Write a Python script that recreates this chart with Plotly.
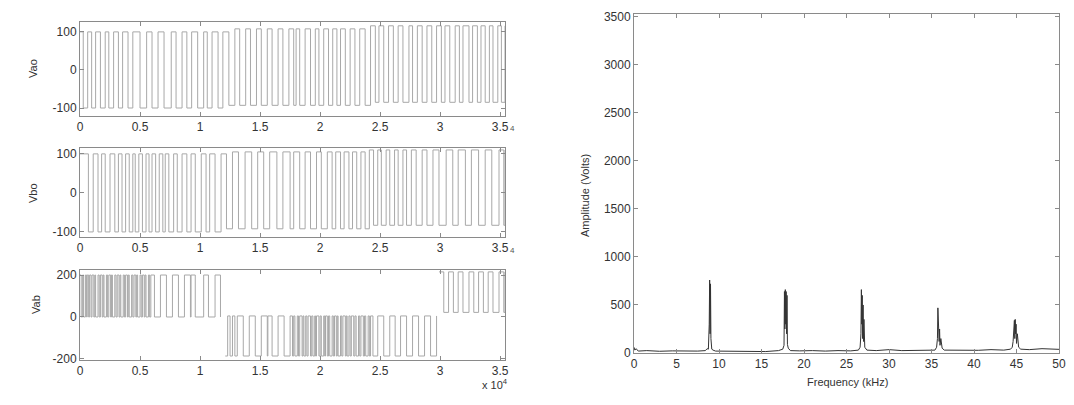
import plotly.graph_objects as go

# ---------------- data (time axis in units of x10^4 samples) ----------------
vao_edges = [0.0, 0.027, 0.064, 0.097, 0.13, 0.17, 0.21, 0.24, 0.28, 0.32, 0.355, 0.40, 0.44,
             0.50, 0.555, 0.60, 0.65, 0.70, 0.76, 0.80, 0.85, 0.89, 0.93, 0.98, 1.03, 1.06,
             1.10, 1.15, 1.19, 1.24, 1.29, 1.33, 1.38, 1.42, 1.47, 1.51, 1.56, 1.60, 1.65,
             1.69, 1.74, 1.78, 1.80, 1.83, 1.875, 1.92, 1.96, 1.99, 2.03, 2.07, 2.105, 2.14,
             2.17, 2.21, 2.25, 2.29, 2.33, 2.375, 2.42, 2.46, 2.49, 2.53, 2.57, 2.61, 2.65,
             2.69, 2.74, 2.77, 2.81, 2.85, 2.89, 2.93, 2.97, 3.01, 3.04, 3.08, 3.125, 3.16,
             3.19, 3.24, 3.27, 3.31, 3.34, 3.375, 3.41, 3.44, 3.48, 3.51, 3.54]
vao_breaks = [1.2, 2.4]
vao_high = [100, 108, 116]
vao_low = [-100, -93, -85]

vbo_edges = [0.0, 0.07, 0.11, 0.15, 0.18, 0.21, 0.25, 0.29, 0.32, 0.35, 0.38, 0.41, 0.44, 0.46,
             0.49, 0.52, 0.55, 0.575, 0.60, 0.63, 0.66, 0.69, 0.71, 0.74, 0.78, 0.81, 0.85,
             0.89, 0.925, 0.96, 1.01, 1.05, 1.08, 1.125, 1.175, 1.22, 1.27, 1.32, 1.375, 1.43,
             1.48, 1.53, 1.58, 1.64, 1.69, 1.75, 1.78, 1.83, 1.875, 1.92, 1.97, 2.01, 2.06,
             2.10, 2.13, 2.17, 2.20, 2.24, 2.27, 2.305, 2.34, 2.375, 2.41, 2.445, 2.48, 2.51,
             2.55, 2.58, 2.62, 2.65, 2.69, 2.72, 2.76, 2.80, 2.85, 2.89, 2.94, 2.99, 3.05,
             3.105, 3.15, 3.21, 3.26, 3.32, 3.375, 3.43, 3.49, 3.53, 3.54]
vbo_breaks = [1.2, 2.4]
vbo_high = [100, 105, 110]
vbo_low = [-100, -92, -83]

vab_pos1_edges = [0.0, 0.01, 0.022, 0.03, 0.045, 0.055, 0.06, 0.072, 0.08, 0.092, 0.10, 0.115,
                  0.123, 0.13, 0.15, 0.16, 0.17, 0.185, 0.193, 0.20, 0.22, 0.23, 0.24, 0.255,
                  0.262, 0.27, 0.29, 0.30, 0.31, 0.325, 0.333, 0.34, 0.36, 0.37, 0.38, 0.395,
                  0.402, 0.41, 0.43, 0.44, 0.45, 0.465, 0.472, 0.48, 0.50, 0.51, 0.52, 0.535,
                  0.542, 0.55, 0.57, 0.58, 0.59, 0.62, 0.67, 0.72, 0.77, 0.82, 0.87, 0.92,
                  0.925, 0.96, 1.03, 1.07, 1.125, 1.17]
vab_neg_edges = [1.21, 1.23, 1.25, 1.27, 1.29, 1.31, 1.36, 1.41, 1.46, 1.51, 1.56, 1.565, 1.60,
                 1.65, 1.70, 1.75, 1.77, 1.78, 1.79, 1.81, 1.82, 1.83, 1.85, 1.858, 1.865, 1.88,
                 1.89, 1.90, 1.92, 1.93, 1.94, 1.955, 1.962, 1.97, 1.99, 2.0, 2.01, 2.03, 2.038,
                 2.045, 2.06, 2.07, 2.08, 2.10, 2.11, 2.12, 2.135, 2.143, 2.15, 2.17, 2.18, 2.19,
                 2.21, 2.218, 2.225, 2.24, 2.25, 2.26, 2.28, 2.29, 2.30, 2.32, 2.33, 2.34, 2.36,
                 2.37, 2.38, 2.40, 2.41, 2.42, 2.44, 2.48, 2.53, 2.58, 2.625, 2.67, 2.72, 2.77,
                 2.82, 2.87, 2.92, 2.97]
vab_pos2_edges = [2.99, 3.03, 3.07, 3.11, 3.15, 3.19, 3.24, 3.28, 3.32, 3.36, 3.40, 3.44, 3.49,
                  3.53, 3.54]
vab_pos1_levels = [200, 0]
vab_neg_levels = [-186, 5]
vab_pos2_levels = [215, 22]

freq_khz = [0.0, 0.1, 0.25, 0.5, 1.5, 3.0, 4.5, 6.0, 7.5, 8.4, 8.6, 8.75, 8.85, 8.9, 8.95, 9.0,
            9.05, 9.15, 9.3, 9.6, 11, 12.5, 14, 15.5, 17.0, 17.5, 17.65, 17.7, 17.75, 17.8,
            17.85, 17.9, 17.95, 18.0, 18.05, 18.15, 18.4, 19.5, 21, 22.5, 24, 25.5, 26.4, 26.6,
            26.7, 26.75, 26.8, 26.85, 26.9, 26.95, 27.0, 27.05, 27.15, 27.4, 28.5, 30, 31.5, 33,
            34.5, 35.4, 35.6, 35.7, 35.75, 35.8, 35.85, 35.9, 35.95, 36.0, 36.1, 36.25, 36.5,
            37.5, 39, 40.5, 42, 43.5, 44.3, 44.5, 44.6, 44.7, 44.75, 44.8, 44.85, 44.9, 44.95,
            45.0, 45.1, 45.25, 45.5, 46.5, 48, 49, 50]
amp_volts = [60, 30, 45, 20, 25, 18, 22, 18, 20, 25, 45, 40, 300, 760, 200, 720,
             150, 40, 30, 20, 20, 18, 20, 15, 25, 40, 80, 640, 250, 660,
             300, 640, 200, 600, 90, 50, 25, 22, 25, 20, 25, 22, 30, 60,
             200, 660, 300, 600, 150, 500, 120, 350, 60, 30, 25, 35, 25, 28,
             25, 30, 60, 150, 470, 200, 300, 120, 250, 80, 150, 50, 30,
             28, 30, 28, 35, 30, 40, 60, 120, 250, 340, 150, 350, 200, 300,
             100, 200, 60, 40, 35, 45, 40, 38]
assert len(freq_khz) == len(amp_volts)

time_ticks = [0, 0.5, 1, 1.5, 2, 2.5, 3, 3.5]
freq_ticks = [0, 5, 10, 15, 20, 25, 30, 35, 40, 45, 50]
amp_ticks = [0, 500, 1000, 1500, 2000, 2500, 3000, 3500]
v100_ticks = [-100, 0, 100]
v100_labels = ["-100", "0", "100"]
v200_ticks = [-200, 0, 200]
v200_labels = ["-200", "0", "200"]

# ---------------- helpers ----------------
# the page body keeps an 8px margin, so the figure is sized to fit inside the window
OFF = 8
W, H = 1074 - OFF, 405 - OFF


def fx(p):
    return (p - OFF) / W


def fy(p):
    return 1 - (p - OFF) / H


def chunked_levels(edges, breaks, highs, lows):
    ys = []
    for i, e in enumerate(edges):
        k = sum(1 for b in breaks if e >= b)
        ys.append(highs[k] if i % 2 == 0 else lows[k])
    return ys


def alt_levels(edges, levels):
    return [levels[i % 2] for i in range(len(edges))]


GRAY = "#a8a8a8"
fig = go.Figure()

fig.add_trace(go.Scatter(x=vao_edges, y=chunked_levels(vao_edges, vao_breaks, vao_high, vao_low),
                         mode="lines", line=dict(color=GRAY, width=1, shape="hv"),
                         xaxis="x", yaxis="y", showlegend=False))
fig.add_trace(go.Scatter(x=vbo_edges, y=chunked_levels(vbo_edges, vbo_breaks, vbo_high, vbo_low),
                         mode="lines", line=dict(color=GRAY, width=1, shape="hv"),
                         xaxis="x2", yaxis="y2", showlegend=False))
for edges, lev in [(vab_pos1_edges, vab_pos1_levels), (vab_neg_edges, vab_neg_levels),
                   (vab_pos2_edges, vab_pos2_levels)]:
    fig.add_trace(go.Scatter(x=edges, y=alt_levels(edges, lev), mode="lines",
                             line=dict(color=GRAY, width=1, shape="hv"),
                             xaxis="x3", yaxis="y3", showlegend=False))
fig.add_trace(go.Scatter(x=freq_khz, y=amp_volts, mode="lines",
                         line=dict(color="#333333", width=1),
                         xaxis="x4", yaxis="y4", showlegend=False))

FONT = dict(family="Liberation Sans, Arial, sans-serif", size=12, color="#333333")
axcommon = dict(showline=True, linecolor="#8a8a8a", linewidth=1, mirror="ticks",
                ticks="inside", ticklen=4, tickcolor="#8a8a8a", showgrid=False,
                zeroline=False, tickfont=FONT, automargin=False)

lx = [fx(80), fx(505)]
fig.update_layout(
    width=W, height=H, margin=dict(l=0, r=0, t=0, b=0, autoexpand=False),
    paper_bgcolor="white", plot_bgcolor="white", font=FONT, showlegend=False,
    xaxis=dict(domain=lx, range=[0, 3.54], tickvals=time_ticks, anchor="y", **axcommon),
    yaxis=dict(domain=[fy(116), fy(22)], range=[-121, 126], tickvals=v100_ticks,
               ticktext=v100_labels, anchor="x", **axcommon),
    xaxis2=dict(domain=lx, range=[0, 3.54], tickvals=time_ticks, anchor="y2", **axcommon),
    yaxis2=dict(domain=[fy(237), fy(148)], range=[-113, 115], tickvals=v100_ticks,
                ticktext=v100_labels, anchor="x2", **axcommon),
    xaxis3=dict(domain=lx, range=[0, 3.54], tickvals=time_ticks, anchor="y3", **axcommon),
    yaxis3=dict(domain=[fy(360), fy(270)], range=[-205, 224], tickvals=v200_ticks,
                ticktext=v200_labels, anchor="x3", **axcommon),
    xaxis4=dict(domain=[fx(634), fx(1059)], range=[0, 50], tickvals=freq_ticks, anchor="y4",
                **axcommon),
    yaxis4=dict(domain=[fy(353), fy(14)], range=[0, 3530], tickvals=amp_ticks, anchor="x4",
                **axcommon),
)

ann = []
for txt, x, y in [("Vao", 33, 69), ("Vbo", 33, 193), ("Vab", 36, 305),
                  ("Amplitude (Volts)", 585, 196)]:
    ann.append(dict(text=txt, x=fx(x), y=fy(y), xref="paper", yref="paper", showarrow=False,
                    textangle=-90, font=dict(family=FONT["family"], size=11, color="#333333"),
                    xanchor="center", yanchor="middle"))
ann.append(dict(text="Frequency (kHz)", x=fx(847), y=fy(382), xref="paper", yref="paper",
                showarrow=False, font=dict(family=FONT["family"], size=11, color="#333333"),
                xanchor="center", yanchor="middle"))
ann.append(dict(text="x 10<sup>4</sup>", x=fx(495), y=fy(384), xref="paper", yref="paper",
                showarrow=False, font=dict(family=FONT["family"], size=11, color="#333333"),
                xanchor="center", yanchor="middle"))
for yy in [128, 250]:
    ann.append(dict(text="4", x=fx(512), y=fy(yy), xref="paper", yref="paper", showarrow=False,
                    font=dict(family=FONT["family"], size=8, color="#555555"),
                    xanchor="center", yanchor="middle"))
fig.update_layout(annotations=ann)

fig.write_html("out.html")
